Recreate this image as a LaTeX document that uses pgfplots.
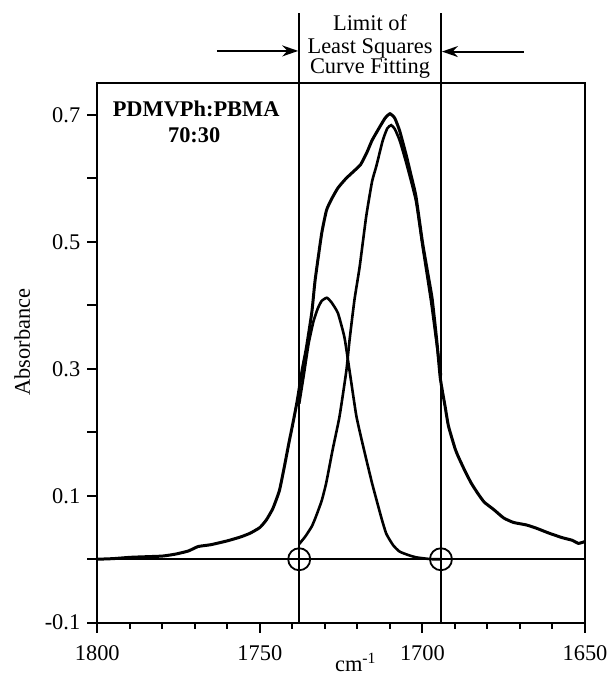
\documentclass[border=0pt]{standalone}
\usepackage{fontspec}
\setmainfont{Liberation Serif}
\usepackage{pgfplots}
\pgfplotsset{compat=1.18}
\usetikzlibrary{arrows.meta}
\newcommand\ff{\fontsize{11.2}{13.4}\selectfont}

% composite band and the two fitted components
\pgfplotstableread{
x y
1800 0.000
1795 0.001
1790 0.003
1785 0.004
1780 0.005
1776 0.008
1772 0.013
1769 0.020
1765 0.023
1760 0.029
1756 0.035
1753 0.041
1750 0.050
1748 0.062
1746 0.080
1744 0.108
1742.5 0.145
1741 0.185
1740 0.210
1738.5 0.250
1737 0.298
1735.7 0.333
1734 0.390
1733 0.440
1731 0.513
1729.5 0.550
1728 0.567
1726 0.585
1723.5 0.600
1721 0.612
1719 0.622
1717 0.642
1715.5 0.660
1713.5 0.678
1711.5 0.695
1710 0.702
1708.5 0.695
1707 0.675
1705 0.637
1703.5 0.605
1702 0.572
1700 0.500
1698.5 0.455
1697 0.410
1695.5 0.340
1694.5 0.285
1693 0.240
1692 0.210
1690 0.175
1689 0.162
1687 0.140
1685 0.120
1683 0.104
1681 0.090
1678 0.078
1675 0.065
1672 0.058
1668 0.054
1665 0.049
1661 0.041
1657 0.034
1654 0.030
1652 0.025
1650 0.028
}\total

\pgfplotstableread{
x y
1737.9 0.024
1736 0.036
1734 0.052
1732.7 0.068
1731 0.092
1729.6 0.120
1727.6 0.173
1725.5 0.225
1723.4 0.297
1722.4 0.346
1720.9 0.409
1719.3 0.461
1717.3 0.540
1715.5 0.595
1714.2 0.619
1712.2 0.660
1710.8 0.679
1709.6 0.684
1708.5 0.678
1707 0.660
1705 0.625
1702 0.565
1700 0.495
1697.3 0.405
1695.5 0.335
1694.3 0.290
}\bigpeak

\pgfplotstableread{
x y
1737.9 0.245
1736.5 0.290
1735 0.340
1733.5 0.375
1732.2 0.395
1731 0.407
1729.4 0.412
1728 0.405
1726 0.388
1724 0.350
1722.5 0.300
1720.4 0.228
1719 0.195
1717.3 0.158
1715.5 0.120
1714.2 0.095
1712.5 0.063
1711.1 0.040
1709 0.022
1707 0.012
1704 0.006
1701.9 0.003
1699 0.001
1696.8 0.000
1694.3 0.000
}\smallpeak

\begin{document}
\begin{tikzpicture}
\begin{axis}[
    name=ax,
    scale only axis,
    width=243.85pt, height=269.7pt,
    x dir=reverse,
    xmin=1650, xmax=1800, ymin=-0.1, ymax=0.75,
    clip=false,
    axis line style={line width=1pt},
    xtick={1650,1700,1750,1800},
    minor xtick={1660,1670,...,1790},
    ytick={-0.1,0,0.1,0.2,0.3,0.4,0.5,0.6,0.7},
    yticklabels={-0.1,,0.1,,0.3,,0.5,,0.7},
    xticklabels={1650,1700,1750,1800},
    xtick pos=bottom, ytick pos=left,
    tick align=outside,
    major tick length=5pt,
    minor tick length=3pt,
    tick style={line width=1pt, black},
    /pgf/number format/assume math mode=true,
    ticklabel style={font=\ff},
    xticklabel style={yshift=-3pt},
    ylabel={Absorbance},
    ylabel style={font=\ff, at={(axis description cs:-0.1538,0.52)}, anchor=center},
]
\addplot[line width=0.8pt] coordinates {(1800,0) (1650,0)};
\addplot[line width=1pt] coordinates {(1737.9,-0.1) (1737.9,0.86)};
\addplot[line width=1pt] coordinates {(1694.3,-0.1) (1694.3,0.86)};
\addplot[line width=1.5pt, smooth, tension=0.3] table {\total};
\addplot[line width=1.3pt, smooth, tension=0.3] table {\bigpeak};
\addplot[line width=1.3pt, smooth, tension=0.3] table {\smallpeak};
\addplot[only marks, mark=o, mark size=5.5pt, mark options={line width=0.9pt}]
    coordinates {(1737.9,0) (1694.3,0)};

\draw[line width=1pt, -{Stealth[length=8pt,width=5.5pt]}] (axis cs:1763.2,0.801) -- (axis cs:1738.2,0.801);
\draw[line width=1pt, -{Stealth[length=8pt,width=5.5pt]}] (axis cs:1668.8,0.800) -- (axis cs:1694.0,0.800);
\node[font=\ff, anchor=base, inner sep=0pt] at (axis cs:1716.1,0.833) {Limit of};
\node[font=\ff, anchor=base, inner sep=0pt] at (axis cs:1716.1,0.797) {Least Squares};
\node[font=\ff, anchor=base, inner sep=0pt] at (axis cs:1716.1,0.7647) {Curve Fitting};
\node[font=\ff\bfseries, anchor=base, inner sep=0pt] at (axis cs:1769.6,0.698) {PDMVPh:PBMA};
\node[font=\ff\bfseries, anchor=base, inner sep=0pt] at (axis cs:1770.2,0.656) {70:30};
\node[font=\ff, anchor=base, inner sep=0pt] at (axis cs:1720.5,-0.1776) {cm\textsuperscript{-1}};
\end{axis}
\pgfresetboundingbox
\path (ax.south west) ++(-48.65pt,-27.65pt) rectangle ++(305.5pt,339pt);
\end{tikzpicture}
\end{document}
